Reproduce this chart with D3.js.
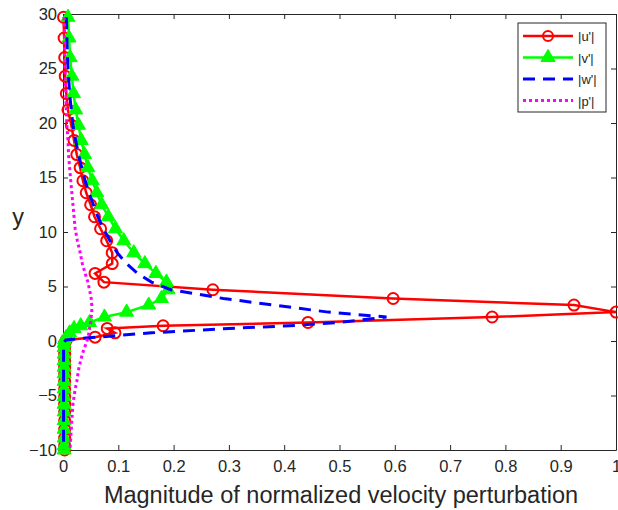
<!DOCTYPE html>
<html>
<head>
<meta charset="utf-8">
<script src="https://cdn.jsdelivr.net/npm/d3@7"></script>
<style>
  body { margin: 0; background: #fff; }
  text { font-family: "Liberation Sans", Arial, sans-serif; fill: #262626; }
</style>
</head>
<body>
<svg id="chart" width="618" height="510"></svg>
<script>
// y grid (same for every profile)
var yGrid = [29.7, 27.8, 26.0, 24.3, 22.7, 21.2, 19.8, 18.4, 17.1, 15.9, 14.7, 13.6, 12.5, 11.4, 10.3, 9.2,
  8.1, 7.1, 6.2, 5.4, 4.7, 3.9, 3.3, 2.65, 2.2, 1.7, 1.4, 1.15, 0.75, 0.35, 0.1,
  -0.2, -0.6, -1.2, -1.8, -2.4, -3.0, -3.7, -4.4, -5.1, -5.8, -6.5, -7.3, -8.1, -8.9, -9.6, -10];

var uMag = [0.001, 0.002, 0.003, 0.004, 0.006, 0.009, 0.015, 0.02, 0.025, 0.031, 0.036, 0.042, 0.05, 0.057, 0.068, 0.079,
  0.089, 0.089, 0.058, 0.074, 0.271, 0.597, 0.924, 1.0, 0.776, 0.443, 0.181, 0.08, 0.094, 0.058, 0.006,
  0.003, 0.003, 0.003, 0.003, 0.003, 0.003, 0.003, 0.003, 0.003, 0.003, 0.003, 0.003, 0.003, 0.003, 0.003, 0.003];

var vMag = [0.009, 0.011, 0.013, 0.016, 0.019, 0.023, 0.028, 0.033, 0.039, 0.045, 0.053, 0.061, 0.07, 0.082, 0.095, 0.11,
  0.128, 0.148, 0.168, 0.187, 0.19, 0.178, 0.155, 0.115, 0.075, 0.048, 0.032, 0.02, 0.012, 0.006, 0.003,
  0.002, 0.002, 0.002, 0.002, 0.002, 0.002, 0.002, 0.002, 0.002, 0.002, 0.002, 0.002, 0.002, 0.002, 0.002, 0.002];

var wMag = [0.006, 0.007, 0.008, 0.01, 0.012, 0.015, 0.018, 0.023, 0.028, 0.034, 0.04, 0.047, 0.055, 0.063, 0.073, 0.085,
  0.098, 0.115, 0.135, 0.16, 0.195, 0.29, 0.38, 0.48, 0.585, 0.5, 0.41, 0.3, 0.16, 0.06, 0.005,
  0.001, 0.001, 0.001, 0.001, 0.001, 0.001, 0.001, 0.001, 0.001, 0.001, 0.001, 0.001, 0.001, 0.001, 0.001, 0.001];

var pMag = [0.002, 0.003, 0.003, 0.004, 0.005, 0.006, 0.007, 0.009, 0.01, 0.012, 0.014, 0.016, 0.018, 0.02, 0.022, 0.026,
  0.031, 0.035, 0.04, 0.045, 0.048, 0.051, 0.052, 0.052, 0.051, 0.05, 0.049, 0.048, 0.047, 0.045, 0.044,
  0.042, 0.039, 0.035, 0.032, 0.029, 0.027, 0.025, 0.022, 0.02, 0.018, 0.017, 0.016, 0.015, 0.014, 0.013, 0.013];

var legendLabels = ["|u'|", "|v'|", "|w'|", "|p'|"];
var xTicks = [0, 0.1, 0.2, 0.3, 0.4, 0.5, 0.6, 0.7, 0.8, 0.9, 1];
var yTicks = [-10, -5, 0, 5, 10, 15, 20, 25, 30];

var svg = d3.select("#chart"),
  MARGINS = { top: 14, right: 2, bottom: 60, left: 63 },
  WIDTH = 618,
  HEIGHT = 510;

var x = d3.scaleLinear().domain([0, 1]).range([MARGINS.left, WIDTH - MARGINS.right]);
var y = d3.scaleLinear().domain([-10, 30]).range([HEIGHT - MARGINS.bottom, MARGINS.top]);

var axisColor = "#262626";

// axes (ticks inward, box on)
var xAxis = d3.axisBottom(x).tickValues(xTicks).tickSizeInner(-5).tickSizeOuter(0).tickPadding(10)
  .tickFormat(function(d) { return d === 0 || d === 1 ? d3.format("d")(d) : d3.format(".1f")(d); });
var xAxisTop = d3.axisTop(x).tickValues(xTicks).tickSizeInner(-5).tickSizeOuter(0).tickFormat("");
var yAxis = d3.axisLeft(y).tickValues(yTicks).tickSizeInner(-5).tickSizeOuter(0).tickPadding(6);
var yAxisRight = d3.axisRight(y).tickValues(yTicks).tickSizeInner(-5).tickSizeOuter(0).tickFormat("");

function styleAxis(g) {
  g.select(".domain").attr("stroke", axisColor).attr("stroke-width", 1);
  g.selectAll(".tick line").attr("stroke", axisColor);
  g.selectAll(".tick text").style("font-size", "16.5px").attr("fill", axisColor);
}

svg.append("g").attr("transform", "translate(0," + (HEIGHT - MARGINS.bottom) + ")").call(xAxis).call(styleAxis);
svg.append("g").attr("transform", "translate(0," + MARGINS.top + ")").call(xAxisTop).call(styleAxis);
svg.append("g").attr("transform", "translate(" + MARGINS.left + ",0)").call(yAxis).call(styleAxis);
svg.append("g").attr("transform", "translate(" + (WIDTH - MARGINS.right) + ",0)").call(yAxisRight).call(styleAxis);

// axis labels
svg.append("text")
  .attr("x", 341)
  .attr("y", 503)
  .attr("text-anchor", "middle")
  .style("font-size", "23.5px")
  .text("Magnitude of normalized velocity perturbation");

svg.append("text")
  .attr("x", 18)
  .attr("y", 225)
  .attr("text-anchor", "middle")
  .style("font-size", "23.5px")
  .text("y");

var line = d3.line()
  .x(function(d) { return x(d[0]); })
  .y(function(d) { return y(d[1]); });

function pairs(vals) {
  return vals.map(function(v, i) { return [v, yGrid[i]]; });
}

var tri = d3.symbol().type(d3.symbolTriangle).size(85);

// |u'|
svg.append("path").datum(pairs(uMag)).attr("d", line)
  .attr("fill", "none").attr("stroke", "#ff0000").attr("stroke-width", 2.5);
svg.append("g").selectAll("circle").data(pairs(uMag)).enter().append("circle")
  .attr("cx", function(d) { return x(d[0]); })
  .attr("cy", function(d) { return y(d[1]); })
  .attr("r", 5.5)
  .attr("fill", "none").attr("stroke", "#ff0000").attr("stroke-width", 2);

// |v'|
svg.append("path").datum(pairs(vMag)).attr("d", line)
  .attr("fill", "none").attr("stroke", "#00ff00").attr("stroke-width", 2.5);
svg.append("g").selectAll("path").data(pairs(vMag)).enter().append("path")
  .attr("d", tri)
  .attr("transform", function(d) { return "translate(" + x(d[0]) + "," + y(d[1]) + ")"; })
  .attr("fill", "#00ff00").attr("stroke", "#00ff00").attr("stroke-width", 1);

// |w'|
svg.append("path").datum(pairs(wMag)).attr("d", line)
  .attr("fill", "none").attr("stroke", "#0000ff").attr("stroke-width", 3)
  .attr("stroke-dasharray", "12,8");

// |p'|
svg.append("path").datum(pairs(pMag)).attr("d", line)
  .attr("fill", "none").attr("stroke", "#ff00ff").attr("stroke-width", 3)
  .attr("stroke-dasharray", "3,3");

// legend
var lg = svg.append("g").attr("transform", "translate(518,23)");
lg.append("rect").attr("width", 88).attr("height", 89)
  .attr("fill", "#fff").attr("stroke", axisColor).attr("stroke-width", 1);

var legendStyles = [
  { color: "#ff0000", dash: null, marker: "circle", w: 2.5 },
  { color: "#00ff00", dash: null, marker: "triangle", w: 2.5 },
  { color: "#0000ff", dash: "12,8", marker: null, w: 3 },
  { color: "#ff00ff", dash: "3,3", marker: null, w: 3 }
];

legendLabels.forEach(function(label, i) {
  var s = legendStyles[i];
  var ly = 13 + i * 21.5;
  lg.append("line").attr("x1", 5).attr("x2", 55).attr("y1", ly).attr("y2", ly)
    .attr("stroke", s.color).attr("stroke-width", s.w)
    .attr("stroke-dasharray", s.dash);
  if (s.marker === "circle") {
    lg.append("circle").attr("cx", 30).attr("cy", ly).attr("r", 5)
      .attr("fill", "none").attr("stroke", s.color).attr("stroke-width", 2);
  } else if (s.marker === "triangle") {
    lg.append("path").attr("d", tri).attr("transform", "translate(30," + ly + ")")
      .attr("fill", s.color).attr("stroke", s.color);
  }
  lg.append("text").attr("x", 60).attr("y", ly + 5).style("font-size", "13px").attr("fill", "#000").text(label);
});
</script>
</body>
</html>
